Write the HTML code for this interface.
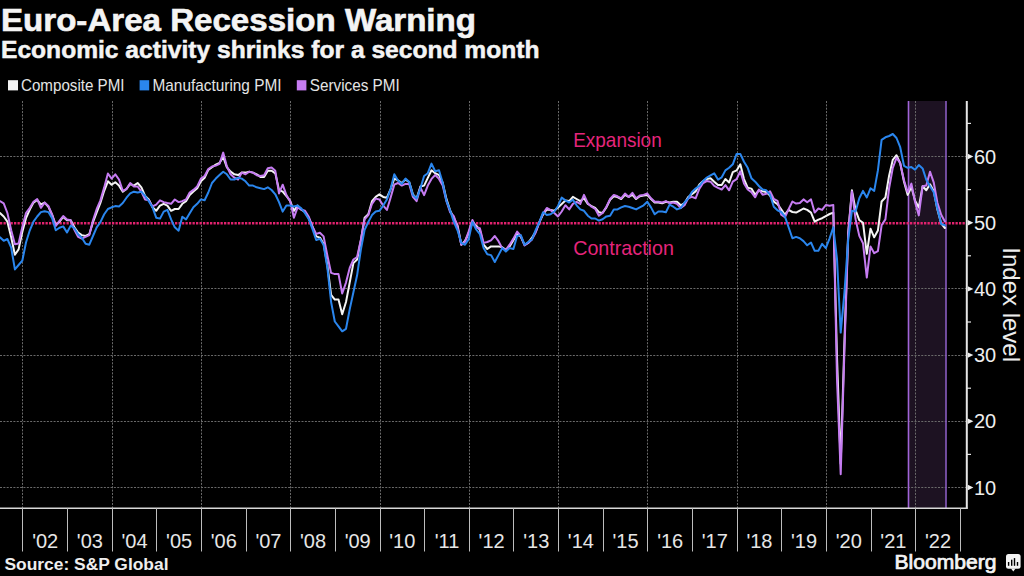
<!DOCTYPE html>
<html><head><meta charset="utf-8"><style>
html,body{margin:0;padding:0;background:#000;width:1024px;height:576px;overflow:hidden}
svg{display:block;font-family:"Liberation Sans", sans-serif}
</style></head><body>
<svg width="1024" height="576" viewBox="0 0 1024 576">
<rect x="908.5" y="101" width="37.5" height="407" fill="#1d1222"/>
<line x1="0" y1="487.50" x2="966" y2="487.50" stroke="#6a6a6a" stroke-width="1" stroke-dasharray="2 1.35"/>
<line x1="0" y1="421.50" x2="966" y2="421.50" stroke="#6a6a6a" stroke-width="1" stroke-dasharray="2 1.35"/>
<line x1="0" y1="355.50" x2="966" y2="355.50" stroke="#6a6a6a" stroke-width="1" stroke-dasharray="2 1.35"/>
<line x1="0" y1="288.50" x2="966" y2="288.50" stroke="#6a6a6a" stroke-width="1" stroke-dasharray="2 1.35"/>
<line x1="0" y1="156.50" x2="966" y2="156.50" stroke="#6a6a6a" stroke-width="1" stroke-dasharray="2 1.35"/>
<line x1="22.50" y1="101" x2="22.50" y2="508" stroke="#6a6a6a" stroke-width="1" stroke-dasharray="2 1.35"/>
<line x1="112.50" y1="101" x2="112.50" y2="508" stroke="#6a6a6a" stroke-width="1" stroke-dasharray="2 1.35"/>
<line x1="201.50" y1="101" x2="201.50" y2="508" stroke="#6a6a6a" stroke-width="1" stroke-dasharray="2 1.35"/>
<line x1="290.50" y1="101" x2="290.50" y2="508" stroke="#6a6a6a" stroke-width="1" stroke-dasharray="2 1.35"/>
<line x1="380.50" y1="101" x2="380.50" y2="508" stroke="#6a6a6a" stroke-width="1" stroke-dasharray="2 1.35"/>
<line x1="469.50" y1="101" x2="469.50" y2="508" stroke="#6a6a6a" stroke-width="1" stroke-dasharray="2 1.35"/>
<line x1="558.50" y1="101" x2="558.50" y2="508" stroke="#6a6a6a" stroke-width="1" stroke-dasharray="2 1.35"/>
<line x1="647.50" y1="101" x2="647.50" y2="508" stroke="#6a6a6a" stroke-width="1" stroke-dasharray="2 1.35"/>
<line x1="737.50" y1="101" x2="737.50" y2="508" stroke="#6a6a6a" stroke-width="1" stroke-dasharray="2 1.35"/>
<line x1="826.50" y1="101" x2="826.50" y2="508" stroke="#6a6a6a" stroke-width="1" stroke-dasharray="2 1.35"/>
<line x1="915.50" y1="101" x2="915.50" y2="508" stroke="#6a6a6a" stroke-width="1" stroke-dasharray="2 1.35"/>
<line x1="908.5" y1="101" x2="908.5" y2="508" stroke="#a064d8" stroke-width="1.6"/>
<line x1="946" y1="101" x2="946" y2="508" stroke="#8a5cc0" stroke-width="1.6"/>
<line x1="0" y1="223.3" x2="966" y2="223.3" stroke="#e2226e" stroke-width="2.6" stroke-dasharray="2.3 1.2"/>
<polyline points="0.0,213.0 3.7,216.5 7.4,221.7 11.2,237.3 14.9,254.7 18.6,249.4 22.3,232.1 26.0,218.2 29.8,209.5 33.5,202.6 37.2,200.0 40.9,204.3 44.6,202.6 48.4,206.9 52.1,214.7 55.8,225.1 59.5,221.7 63.2,216.9 67.0,220.3 70.7,220.3 74.4,227.3 78.1,232.5 81.8,235.1 85.6,236.0 89.3,234.2 93.0,222.1 96.7,212.5 100.4,203.0 104.2,190.8 107.9,181.3 111.6,184.8 115.3,182.2 119.0,185.6 122.8,191.7 126.5,189.0 130.2,183.9 133.9,185.6 137.6,183.0 141.4,187.3 145.1,196.0 148.8,199.5 152.5,207.3 156.2,210.8 160.0,205.6 163.7,203.8 167.4,205.6 171.1,210.8 174.8,209.0 178.6,209.0 182.3,203.8 186.0,201.2 189.7,195.1 193.4,191.6 197.2,188.2 200.9,181.2 204.6,177.7 208.3,169.9 212.0,167.3 215.8,164.7 219.5,163.0 223.2,156.9 226.9,167.3 230.6,171.7 234.4,174.3 238.1,175.1 241.8,172.6 245.5,172.6 249.2,171.7 253.0,172.6 256.7,174.3 260.4,176.9 264.1,176.9 267.8,170.8 271.6,170.8 275.3,173.4 279.0,189.9 282.7,191.7 286.4,196.0 290.2,201.2 293.9,210.8 297.6,205.6 301.3,209.6 305.0,212.0 308.8,218.1 312.5,226.6 316.2,236.4 319.9,237.6 323.6,243.7 327.4,265.6 331.1,294.8 334.8,299.6 338.5,299.6 342.2,314.2 346.0,302.0 349.7,282.6 353.4,263.1 357.1,259.5 360.8,241.0 364.6,217.7 368.3,214.2 372.0,201.2 375.7,196.9 379.4,194.3 383.2,196.9 386.9,197.7 390.6,189.1 394.3,178.6 398.0,180.4 401.8,183.0 405.5,179.5 409.2,182.1 412.9,194.3 416.6,198.6 420.4,186.5 424.1,185.6 427.8,177.9 431.5,170.3 435.2,173.2 439.0,175.1 442.7,182.7 446.4,198.9 450.1,210.4 453.8,218.0 457.6,225.7 461.3,244.8 465.0,241.0 468.7,233.3 472.4,221.9 476.2,225.7 479.9,229.9 483.6,244.7 487.3,249.0 491.0,246.4 494.8,246.4 498.5,246.4 502.2,247.3 505.9,249.9 509.6,246.4 513.4,240.3 517.1,234.2 520.8,236.8 524.5,244.7 528.2,242.9 532.0,237.7 535.7,231.6 539.4,222.1 543.1,214.3 546.8,209.4 550.6,210.1 554.3,210.8 558.0,207.4 561.7,203.9 565.4,200.4 569.2,201.1 572.9,196.9 576.6,199.0 580.3,201.1 584.0,198.3 587.8,203.9 591.5,206.0 595.2,208.0 598.9,212.2 602.6,212.9 606.4,207.4 610.1,199.7 613.8,196.3 617.5,197.0 621.2,199.0 625.0,194.9 628.7,197.0 632.4,194.9 636.1,199.0 639.8,196.3 643.6,195.6 647.3,194.9 651.0,199.0 654.7,202.5 658.4,202.5 662.2,203.2 665.9,201.8 669.6,202.5 673.3,201.8 677.0,201.8 680.8,205.3 684.5,203.2 688.2,197.0 691.9,194.2 695.6,191.4 699.4,184.4 703.1,181.0 706.8,178.9 710.5,178.2 714.2,181.7 718.0,185.1 721.7,185.1 725.4,179.1 729.1,182.5 732.8,172.1 736.6,170.4 740.3,164.3 744.0,179.1 747.7,187.7 751.4,188.6 755.2,194.7 758.9,190.3 762.6,191.2 766.3,192.1 770.0,195.6 773.8,201.6 777.5,204.2 781.2,209.4 784.9,214.7 788.6,209.9 792.4,212.0 796.1,212.6 799.8,210.6 803.5,208.5 807.2,209.9 811.0,212.6 814.7,221.7 818.4,219.6 822.1,218.2 825.8,216.1 829.6,214.0 833.3,212.6 837.0,357.1 840.7,463.7 844.4,342.5 848.2,232.6 851.9,190.3 855.6,210.1 859.3,220.1 863.0,222.7 866.8,253.8 870.5,228.7 874.2,237.3 877.9,230.6 881.6,201.5 885.4,197.5 889.1,175.7 892.8,159.8 896.5,155.2 900.2,163.1 904.0,181.7 907.7,194.9 911.4,186.9 915.1,200.8 918.8,207.5 922.6,186.3 926.3,190.3 930.0,184.3 933.7,190.9 937.4,209.5 941.2,223.4 944.9,228.0" fill="none" stroke="#f4f4f4" stroke-width="2.0" stroke-linejoin="round" stroke-linecap="round"/>
<polyline points="0.0,201.2 3.7,203.4 7.4,213.0 11.2,230.3 14.9,244.2 18.6,243.4 22.3,226.9 26.0,213.0 29.8,207.8 33.5,201.7 37.2,199.1 40.9,207.8 44.6,202.6 48.4,206.0 52.1,214.7 55.8,226.0 59.5,220.8 63.2,216.0 67.0,219.5 70.7,220.3 74.4,229.9 78.1,236.8 81.8,238.6 85.6,236.8 89.3,235.1 93.0,220.3 96.7,209.0 100.4,200.4 104.2,187.4 107.9,173.5 111.6,178.7 115.3,174.3 119.0,179.5 122.8,190.8 126.5,189.0 130.2,183.0 133.9,186.5 137.6,186.5 141.4,191.7 145.1,199.5 148.8,200.3 152.5,206.4 156.2,204.7 160.0,200.3 163.7,202.1 167.4,203.0 171.1,203.8 174.8,199.5 178.6,202.1 182.3,201.2 186.0,199.4 189.7,192.5 193.4,189.9 197.2,186.4 200.9,178.6 204.6,176.0 208.3,169.0 212.0,166.5 215.8,165.6 219.5,163.9 223.2,152.6 226.9,166.5 230.6,174.3 234.4,177.7 238.1,179.5 241.8,172.6 245.5,174.3 249.2,171.7 253.0,172.6 256.7,175.2 260.4,176.0 264.1,175.2 267.8,168.2 271.6,167.4 275.3,170.8 279.0,193.4 282.7,184.7 286.4,195.1 290.2,201.2 293.9,217.7 297.6,207.3 301.3,209.6 305.0,210.8 308.8,216.9 312.5,226.6 316.2,233.9 319.9,232.7 323.6,236.4 327.4,255.8 331.1,272.9 334.8,274.1 338.5,274.1 342.2,293.5 346.0,282.6 349.7,268.0 353.4,259.5 357.1,257.0 360.8,240.0 364.6,219.4 368.3,215.1 372.0,203.8 375.7,198.6 379.4,199.5 383.2,205.6 386.9,209.9 390.6,197.7 394.3,184.7 398.0,183.0 401.8,185.6 405.5,183.9 409.2,183.9 412.9,196.9 416.6,201.2 420.4,187.5 424.1,195.1 427.8,185.6 431.5,178.9 435.2,175.0 439.0,178.9 442.7,185.6 446.4,200.9 450.1,212.3 453.8,216.1 457.6,227.6 461.3,244.8 465.0,241.9 468.7,231.4 472.4,220.0 476.2,227.6 479.9,228.2 483.6,242.9 487.3,242.0 491.0,240.3 494.8,236.0 498.5,241.2 502.2,248.1 505.9,249.9 509.6,244.7 513.4,238.6 517.1,231.6 520.8,236.0 524.5,245.5 528.2,242.9 532.0,239.4 535.7,232.5 539.4,222.1 543.1,213.6 546.8,208.0 550.6,210.1 554.3,212.9 558.0,216.4 561.7,211.5 565.4,205.3 569.2,209.4 572.9,203.9 576.6,201.8 580.3,203.9 584.0,194.9 587.8,203.2 591.5,206.7 595.2,208.8 598.9,215.7 602.6,212.9 606.4,206.7 610.1,199.0 613.8,194.9 617.5,196.3 621.2,198.3 625.0,193.5 628.7,197.0 632.4,192.8 636.1,198.3 639.8,195.6 643.6,194.9 647.3,193.5 651.0,198.3 654.7,201.8 658.4,201.8 662.2,202.5 665.9,201.1 669.6,203.2 673.3,202.5 677.0,203.9 680.8,208.0 684.5,205.3 688.2,198.3 691.9,196.9 695.6,198.3 699.4,188.6 703.1,183.0 706.8,181.0 710.5,181.7 714.2,185.8 718.0,187.9 721.7,189.5 725.4,185.1 729.1,190.3 732.8,181.7 736.6,179.1 740.3,171.3 744.0,183.4 747.7,189.5 751.4,192.1 755.2,197.3 758.9,189.5 762.6,194.7 766.3,193.8 770.0,191.2 773.8,199.0 777.5,200.8 781.2,214.7 784.9,217.3 788.6,209.2 792.4,201.5 796.1,203.6 799.8,202.9 803.5,199.4 807.2,202.2 811.0,199.4 814.7,212.6 818.4,208.5 822.1,209.9 825.8,205.0 829.6,205.7 833.3,205.0 837.0,378.9 840.7,474.3 844.4,351.8 848.2,233.9 851.9,191.6 855.6,219.4 859.3,235.9 863.0,243.2 866.8,277.6 870.5,246.5 874.2,253.2 877.9,251.2 881.6,225.3 885.4,219.4 889.1,188.3 892.8,167.8 896.5,157.8 900.2,163.1 904.0,180.3 907.7,192.2 911.4,183.6 915.1,202.2 918.8,215.4 922.6,186.3 926.3,185.6 930.0,171.7 933.7,182.3 937.4,202.8 941.2,214.8 944.9,221.4" fill="none" stroke="#c67cf2" stroke-width="2.0" stroke-linejoin="round" stroke-linecap="round"/>
<polyline points="0.0,237.3 3.7,240.8 7.4,239.0 11.2,247.7 14.9,269.4 18.6,265.0 22.3,260.7 26.0,242.5 29.8,230.3 33.5,221.7 37.2,216.5 40.9,212.1 44.6,211.2 48.4,212.1 52.1,218.2 55.8,230.3 59.5,227.7 63.2,226.4 67.0,232.5 70.7,225.6 74.4,228.2 78.1,234.2 81.8,237.7 85.6,243.8 89.3,244.7 93.0,236.0 96.7,227.3 100.4,222.1 104.2,214.3 107.9,209.0 111.6,207.3 115.3,206.1 119.0,206.4 122.8,203.0 126.5,197.7 130.2,193.4 133.9,191.7 137.6,192.5 141.4,191.7 145.1,196.0 148.8,201.2 152.5,207.3 156.2,217.7 160.0,218.6 163.7,211.6 167.4,209.9 171.1,219.4 174.8,227.3 178.6,230.7 182.3,216.8 186.0,219.4 189.7,213.3 193.4,207.3 197.2,203.8 200.9,199.4 204.6,200.3 208.3,192.5 212.0,183.0 215.8,178.6 219.5,175.1 223.2,171.7 226.9,174.3 230.6,179.5 234.4,179.5 238.1,177.7 241.8,178.6 245.5,181.3 249.2,185.6 253.0,185.6 256.7,187.3 260.4,188.2 264.1,189.1 267.8,187.3 271.6,190.0 275.3,194.3 279.0,202.1 282.7,211.6 286.4,205.6 290.2,205.6 293.9,206.4 297.6,205.6 301.3,208.4 305.0,213.2 308.8,219.3 312.5,229.1 316.2,240.0 319.9,238.8 323.6,244.9 327.4,268.0 331.1,302.0 334.8,321.5 338.5,326.4 342.2,331.3 346.0,328.8 349.7,309.4 353.4,292.3 357.1,275.3 360.8,250.0 364.6,229.9 368.3,222.0 372.0,215.1 375.7,211.6 379.4,210.8 383.2,205.6 386.9,199.5 390.6,189.1 394.3,174.3 398.0,180.4 401.8,183.9 405.5,178.6 409.2,182.1 412.9,195.1 416.6,198.6 420.4,188.4 424.1,176.0 427.8,173.2 431.5,163.6 435.2,171.2 439.0,170.3 442.7,182.7 446.4,200.9 450.1,210.4 453.8,221.9 457.6,230.5 461.3,242.9 465.0,244.8 468.7,239.1 472.4,221.9 476.2,229.5 479.9,234.2 483.6,248.1 487.3,254.2 491.0,255.1 494.8,262.0 498.5,255.1 502.2,248.1 505.9,251.6 509.6,248.1 513.4,249.0 517.1,236.0 520.8,235.1 524.5,244.7 528.2,242.0 532.0,239.4 535.7,229.9 539.4,222.1 543.1,212.2 546.8,215.0 550.6,214.3 554.3,211.5 558.0,206.0 561.7,197.6 565.4,200.4 569.2,202.5 572.9,199.7 576.6,205.3 580.3,209.4 584.0,210.8 587.8,215.7 591.5,218.5 595.2,218.5 598.9,220.6 602.6,219.2 606.4,216.4 610.1,215.7 613.8,209.4 617.5,209.4 621.2,207.4 625.0,206.0 628.7,206.7 632.4,208.0 636.1,209.4 639.8,207.4 643.6,205.3 647.3,201.8 651.0,207.4 654.7,214.3 658.4,211.5 662.2,211.5 665.9,212.2 669.6,204.6 673.3,206.7 677.0,209.4 680.8,208.0 684.5,202.5 688.2,198.3 691.9,192.1 695.6,188.6 699.4,185.8 703.1,181.0 706.8,177.5 710.5,175.4 714.2,173.3 718.0,179.6 721.7,177.3 725.4,170.4 729.1,167.8 732.8,164.3 736.6,153.9 740.3,153.9 744.0,161.7 747.7,167.8 751.4,178.2 755.2,181.7 758.9,186.0 762.6,189.5 766.3,190.3 770.0,194.7 773.8,206.8 777.5,210.3 781.2,212.0 784.9,216.4 788.6,227.2 792.4,238.3 796.1,236.9 799.8,238.3 803.5,241.1 807.2,245.3 811.0,242.5 814.7,250.8 818.4,250.8 822.1,243.9 825.8,248.1 829.6,238.3 833.3,227.2 837.0,259.1 840.7,332.6 844.4,292.9 848.2,239.9 851.9,210.8 855.6,211.4 859.3,198.2 863.0,190.9 866.8,197.5 870.5,188.3 874.2,190.9 877.9,170.4 881.6,139.9 885.4,137.3 889.1,136.0 892.8,134.0 896.5,138.0 900.2,147.2 904.0,165.8 907.7,167.8 911.4,167.1 915.1,169.7 918.8,165.1 922.6,168.4 926.3,179.7 930.0,186.3 933.7,192.2 937.4,208.8 941.2,224.0 944.9,225.3" fill="none" stroke="#2a86ee" stroke-width="2.0" stroke-linejoin="round" stroke-linecap="round"/>
<line x1="966.8" y1="101" x2="966.8" y2="508.6" stroke="#e6e6e6" stroke-width="2"/>
<line x1="0" y1="508.2" x2="967.8" y2="508.2" stroke="#d8d8d8" stroke-width="1.4"/>
<line x1="22.50" y1="508" x2="22.50" y2="551.5" stroke="#bdbdbd" stroke-width="1"/>
<line x1="67.50" y1="508" x2="67.50" y2="551.5" stroke="#bdbdbd" stroke-width="1"/>
<line x1="112.50" y1="508" x2="112.50" y2="551.5" stroke="#bdbdbd" stroke-width="1"/>
<line x1="156.50" y1="508" x2="156.50" y2="551.5" stroke="#bdbdbd" stroke-width="1"/>
<line x1="201.50" y1="508" x2="201.50" y2="551.5" stroke="#bdbdbd" stroke-width="1"/>
<line x1="246.50" y1="508" x2="246.50" y2="551.5" stroke="#bdbdbd" stroke-width="1"/>
<line x1="290.50" y1="508" x2="290.50" y2="551.5" stroke="#bdbdbd" stroke-width="1"/>
<line x1="335.50" y1="508" x2="335.50" y2="551.5" stroke="#bdbdbd" stroke-width="1"/>
<line x1="380.50" y1="508" x2="380.50" y2="551.5" stroke="#bdbdbd" stroke-width="1"/>
<line x1="424.50" y1="508" x2="424.50" y2="551.5" stroke="#bdbdbd" stroke-width="1"/>
<line x1="469.50" y1="508" x2="469.50" y2="551.5" stroke="#bdbdbd" stroke-width="1"/>
<line x1="513.50" y1="508" x2="513.50" y2="551.5" stroke="#bdbdbd" stroke-width="1"/>
<line x1="558.50" y1="508" x2="558.50" y2="551.5" stroke="#bdbdbd" stroke-width="1"/>
<line x1="603.50" y1="508" x2="603.50" y2="551.5" stroke="#bdbdbd" stroke-width="1"/>
<line x1="647.50" y1="508" x2="647.50" y2="551.5" stroke="#bdbdbd" stroke-width="1"/>
<line x1="692.50" y1="508" x2="692.50" y2="551.5" stroke="#bdbdbd" stroke-width="1"/>
<line x1="737.50" y1="508" x2="737.50" y2="551.5" stroke="#bdbdbd" stroke-width="1"/>
<line x1="781.50" y1="508" x2="781.50" y2="551.5" stroke="#bdbdbd" stroke-width="1"/>
<line x1="826.50" y1="508" x2="826.50" y2="551.5" stroke="#bdbdbd" stroke-width="1"/>
<line x1="871.50" y1="508" x2="871.50" y2="551.5" stroke="#bdbdbd" stroke-width="1"/>
<line x1="915.50" y1="508" x2="915.50" y2="551.5" stroke="#bdbdbd" stroke-width="1"/>
<line x1="960.50" y1="508" x2="960.50" y2="551.5" stroke="#bdbdbd" stroke-width="1"/>
<text x="45.22" y="548" text-anchor="middle" font-size="20" fill="#e6e6e6">'02</text>
<text x="89.86" y="548" text-anchor="middle" font-size="20" fill="#e6e6e6">'03</text>
<text x="134.50" y="548" text-anchor="middle" font-size="20" fill="#e6e6e6">'04</text>
<text x="179.14" y="548" text-anchor="middle" font-size="20" fill="#e6e6e6">'05</text>
<text x="223.78" y="548" text-anchor="middle" font-size="20" fill="#e6e6e6">'06</text>
<text x="268.42" y="548" text-anchor="middle" font-size="20" fill="#e6e6e6">'07</text>
<text x="313.06" y="548" text-anchor="middle" font-size="20" fill="#e6e6e6">'08</text>
<text x="357.70" y="548" text-anchor="middle" font-size="20" fill="#e6e6e6">'09</text>
<text x="402.34" y="548" text-anchor="middle" font-size="20" fill="#e6e6e6">'10</text>
<text x="446.98" y="548" text-anchor="middle" font-size="20" fill="#e6e6e6">'11</text>
<text x="491.62" y="548" text-anchor="middle" font-size="20" fill="#e6e6e6">'12</text>
<text x="536.26" y="548" text-anchor="middle" font-size="20" fill="#e6e6e6">'13</text>
<text x="580.90" y="548" text-anchor="middle" font-size="20" fill="#e6e6e6">'14</text>
<text x="625.54" y="548" text-anchor="middle" font-size="20" fill="#e6e6e6">'15</text>
<text x="670.18" y="548" text-anchor="middle" font-size="20" fill="#e6e6e6">'16</text>
<text x="714.82" y="548" text-anchor="middle" font-size="20" fill="#e6e6e6">'17</text>
<text x="759.46" y="548" text-anchor="middle" font-size="20" fill="#e6e6e6">'18</text>
<text x="804.10" y="548" text-anchor="middle" font-size="20" fill="#e6e6e6">'19</text>
<text x="848.74" y="548" text-anchor="middle" font-size="20" fill="#e6e6e6">'20</text>
<text x="893.38" y="548" text-anchor="middle" font-size="20" fill="#e6e6e6">'21</text>
<text x="938.02" y="548" text-anchor="middle" font-size="20" fill="#e6e6e6">'22</text>
<path d="M967.8 484.80 L973.4 487.50 L967.8 490.20 Z" fill="#eeeeee"/>
<text x="974" y="494.60" font-size="20" fill="#eeeeee">10</text>
<line x1="967" y1="454.40" x2="971" y2="454.40" stroke="#e6e6e6" stroke-width="1.2"/>
<path d="M967.8 418.60 L973.4 421.30 L967.8 424.00 Z" fill="#eeeeee"/>
<text x="974" y="428.40" font-size="20" fill="#eeeeee">20</text>
<line x1="967" y1="388.20" x2="971" y2="388.20" stroke="#e6e6e6" stroke-width="1.2"/>
<path d="M967.8 352.40 L973.4 355.10 L967.8 357.80 Z" fill="#eeeeee"/>
<text x="974" y="362.20" font-size="20" fill="#eeeeee">30</text>
<line x1="967" y1="322.00" x2="971" y2="322.00" stroke="#e6e6e6" stroke-width="1.2"/>
<path d="M967.8 286.20 L973.4 288.90 L967.8 291.60 Z" fill="#eeeeee"/>
<text x="974" y="296.00" font-size="20" fill="#eeeeee">40</text>
<line x1="967" y1="255.80" x2="971" y2="255.80" stroke="#e6e6e6" stroke-width="1.2"/>
<path d="M967.8 220.00 L973.4 222.70 L967.8 225.40 Z" fill="#eeeeee"/>
<text x="974" y="229.80" font-size="20" fill="#eeeeee">50</text>
<line x1="967" y1="189.60" x2="971" y2="189.60" stroke="#e6e6e6" stroke-width="1.2"/>
<path d="M967.8 153.80 L973.4 156.50 L967.8 159.20 Z" fill="#eeeeee"/>
<text x="974" y="163.60" font-size="20" fill="#eeeeee">60</text>
<line x1="967" y1="123.40" x2="971" y2="123.40" stroke="#e6e6e6" stroke-width="1.2"/>
<text transform="translate(1003,247.3) rotate(90)" x="0" y="0" font-size="24" fill="#eeeeee">Index level</text>
<text x="573.2" y="146.9" font-size="20.8" fill="#e5257c" textLength="88.5" lengthAdjust="spacingAndGlyphs">Expansion</text>
<text x="573.2" y="254.9" font-size="20.8" fill="#e5257c" textLength="100.7" lengthAdjust="spacingAndGlyphs">Contraction</text>
<text x="1" y="31.3" font-size="31" font-weight="bold" fill="#f4f4f4" stroke="#f4f4f4" stroke-width="0.6" textLength="475" lengthAdjust="spacingAndGlyphs">Euro-Area Recession Warning</text>
<text x="1" y="58.4" font-size="23.5" font-weight="bold" fill="#f4f4f4" stroke="#f4f4f4" stroke-width="0.5" textLength="538.5" lengthAdjust="spacingAndGlyphs">Economic activity shrinks for a second month</text>
<rect x="8" y="80.2" width="10" height="10.2" fill="#f2f2f2"/>
<rect x="139.6" y="80.2" width="9.6" height="10.2" fill="#2a86ee"/>
<rect x="296.8" y="80.2" width="9.6" height="10.2" fill="#c67cf2"/>
<text x="21" y="91.2" font-size="16.2" fill="#e4e4e4" textLength="103.5" lengthAdjust="spacingAndGlyphs">Composite PMI</text>
<text x="152.5" y="91.2" font-size="16.2" fill="#e4e4e4" textLength="129" lengthAdjust="spacingAndGlyphs">Manufacturing PMI</text>
<text x="309.8" y="91.2" font-size="16.2" fill="#e4e4e4" textLength="90" lengthAdjust="spacingAndGlyphs">Services PMI</text>
<text x="4.5" y="570" font-size="16" font-weight="bold" fill="#eeeeee" textLength="164" lengthAdjust="spacingAndGlyphs">Source: S&amp;P Global</text>
<text x="894.5" y="568.8" font-size="19.5" fill="#f4f4f4" stroke="#f4f4f4" stroke-width="0.7" textLength="102" lengthAdjust="spacingAndGlyphs">Bloomberg</text>
<rect x="1006" y="554" width="14.6" height="14.8" rx="2.5" fill="#f4f4f4"/>
<path d="M1011 568.5 L1013.3 571.5 L1015.6 568.5 Z" fill="#f4f4f4"/>
<rect x="1007.9" y="562" width="1.4" height="3.8" fill="#000"/>
<rect x="1011" y="559.7" width="1.4" height="6.1" fill="#000"/>
<rect x="1013.8" y="558.1" width="1.4" height="7.7" fill="#000"/>
<rect x="1016.8" y="562" width="1.4" height="3.8" fill="#000"/>
</svg>
</body></html>
